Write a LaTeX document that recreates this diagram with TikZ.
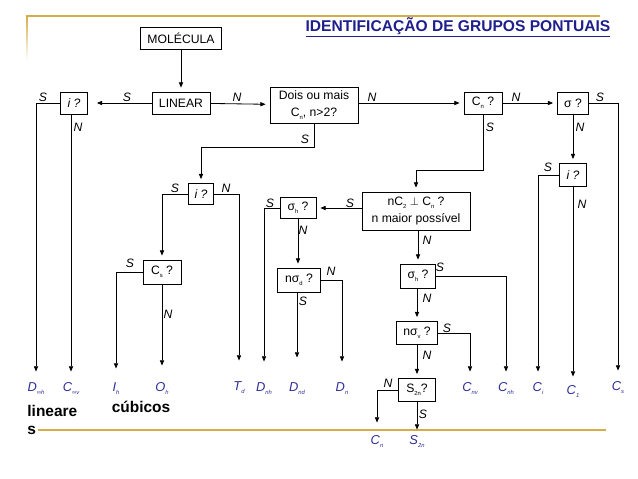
\documentclass[tikz,border=0pt]{standalone}
\usepackage{fontspec}
\setmainfont{Liberation Sans}
\usetikzlibrary{arrows.meta}
\definecolor{gold}{RGB}{212,172,72}
\definecolor{navy}{RGB}{30,30,140}
\definecolor{leafblue}{RGB}{45,45,150}
\newcommand{\sbs}[1]{\raisebox{-0.45ex}{\fontsize{5}{5}\selectfont #1}}

\begin{document}
\begin{tikzpicture}[x=0.03cm, y=-0.03cm, line width=0.7pt,
  box/.style={draw, fill=white, inner sep=0pt, align=center,
              font=\fontsize{10.4}{14}\selectfont},
  sz/.style 2 args={minimum width=#1*0.03cm, minimum height=#2*0.03cm},
  yn/.style={font=\fontsize{10.4}{12}\selectfont\itshape, inner sep=0pt},
  leaf/.style={font=\fontsize{11}{12}\selectfont\itshape, text=leafblue,
               inner sep=1pt, text height=8pt, text depth=2pt},
  big/.style={font=\fontsize{13.2}{16}\selectfont\bfseries, inner sep=0pt},
  arr/.style={-{Triangle[length=4.5pt,width=3.6pt]}, shorten >=0.12cm}
]
\useasboundingbox (0,0) rectangle (638,479);

% moldura
\draw[gold, line width=1.6pt] (27,16) -- (600,16);
\shade[top color=gold, bottom color=white] (26.2,16) rectangle (27.8,60);
\draw[gold, line width=1.2pt] (38,430) -- (606,430);

\node[big, font=\fontsize{13.3}{14}\selectfont\bfseries, text=navy] (title) at (458,27)
  {\underline{IDENTIFICAÇÃO DE GRUPOS PONTUAIS}};

% caixas
\node[box, sz={81}{22}] (mol) at (181,38) {MOLÉCULA};
\node[box, sz={58}{22}] (lin) at (181,103) {LINEAR};
\node[box, sz={27}{22}] (ilin) at (74,103) {\itshape i ?};
\node[box, sz={88}{36}] (dois) at (314,105) {Dois ou mais\\C\sbs{n}, n>2?};
\node[box, sz={38}{22}] (cn) at (483,103) {C\sbs{n} ?};
\node[box, sz={31}{22}] (sig) at (573,103) {σ ?};
\node[box, sz={25}{21}] (icub) at (201,194) {\itshape i ?};
\node[box, sz={38}{24}] (cs) at (162,272) {C\sbs{s} ?};
\node[box, sz={108}{38}] (nc2) at (416,211) {nC\sbs{2} $\perp$ C\sbs{n} ?\\n maior possível};
\node[box, sz={36}{21}] (sh1) at (298,208) {σ\sbs{h} ?};
\node[box, sz={43}{24}] (nsd) at (299,280) {nσ\sbs{d} ?};
\node[box, sz={35}{24}] (sh2) at (418,276) {σ\sbs{h} ?};
\node[box, sz={41}{23}] (nsv) at (417,333) {nσ\sbs{v} ?};
\node[box, sz={37}{23}] (s2n) at (417,390) {S\sbs{2n}?};
\node[box, sz={27}{23}] (iri) at (573,175) {\itshape i ?};

% grupos pontuais
\node[leaf] (dinfh) at (36,388) {D\sbs{∞h}};
\node[leaf] (cinfv) at (71,388) {C\sbs{∞v}};
\node[leaf] (ih) at (116,388) {I\sbs{h}};
\node[leaf] (oh) at (162,388) {O\sbs{h}};
\node[leaf] (td) at (239,387) {T\sbs{d}};
\node[leaf] (dnh) at (264,388) {D\sbs{nh}};
\node[leaf] (dnd) at (297,388) {D\sbs{nd}};
\node[leaf] (dn) at (342,388) {D\sbs{n}};
\node[leaf] (cnv) at (470,388) {C\sbs{nv}};
\node[leaf] (cnh) at (506,388) {C\sbs{nh}};
\node[leaf] (ci) at (538,388) {C\sbs{i}};
\node[leaf] (c1) at (573,391) {C\sbs{1}};
\node[leaf] (csl) at (618,387) {C\sbs{s}};
\node[leaf] (cnb) at (377,441) {C\sbs{n}};
\node[leaf] (s2nl) at (417,441) {S\sbs{2n}};

\node[big, align=left, anchor=west] (linr) at (27,420) {lineare\\s};
\node[big] (cub) at (141,407) {cúbicos};

% ligações
\draw[arr] (mol) -- (lin);
\draw[arr, shorten >=0.27cm] (lin) -- (ilin);
\draw[arr] (lin) -- (dois);
\draw[arr] (dois.east |- cn) -- (cn);
\draw[arr] (cn) -- (sig);

\draw[arr, shorten >=0.27cm] (ilin.west) -| (dinfh);
\draw[arr, shorten >=0.27cm] (ilin.south -| cinfv) -- (cinfv);

\draw[arr] (dois.south) -- ++(0,24) -| (icub);
\draw[arr] (icub.west) -| (cs);
\draw[arr, shorten >=0.57cm] (icub.east) -| (td);
\draw[arr, shorten >=0.36cm] (cs.west) -| (ih);
\draw[arr, shorten >=0.45cm] (cs) -- (oh);

\draw[arr] (cn.south) -- ++(0,56) -| (nc2);
\draw[arr] (nc2.west |- sh1) -- (sh1);
\draw[arr] (nc2.south -| sh2) -- (sh2);
\draw[arr, shorten >=0.57cm] (sh1.west) -| (dnh);
\draw[arr] (sh1.south) -- (sh1.south |- nsd.north);
\draw[arr, shorten >=0.57cm] (nsd.east) -| (dn);
\draw[arr, shorten >=0.69cm] (nsd.south -| dnd) -- (dnd);

\draw[arr, shorten >=0.27cm] (sh2.east) -| (cnh);
\draw[arr] (sh2.south -| nsv) -- (nsv);
\draw[arr, shorten >=0.27cm] (nsv.east) -| (cnv);
\draw[arr] (nsv) -- (s2n);
\draw[arr, shorten >=0.33cm] (s2n.west) -| (cnb);
\draw[arr, shorten >=0.12cm] (s2n) -- (s2nl);

\draw[arr, shorten >=0.27cm] (sig.east) -| (csl);
\draw[arr] (sig) -- (iri);
\draw[arr, shorten >=0.27cm] (iri.west) -| (ci);
\draw[arr, shorten >=0.21cm] (iri) -- (c1);

% S / N
\foreach \p/\t [count=\k] in {(43,97)/S, (127,97)/S, (237,97)/N, (78,127)/N,
    (372,97)/N, (305,139)/S, (516,97)/N, (490,127)/S, (600,97)/S, (580,127)/N,
    (548,167)/S, (582,204)/N, (175,188)/S, (226,188)/N, (130,263)/S, (168,314)/N,
    (270,203)/S, (350,203)/S, (303,230)/N, (331,271)/N, (303,301)/S, (427,240)/N,
    (440,267)/S, (427,298)/N, (447,328)/S, (427,355)/N, (388,383)/N, (423,414)/S}
  \node[yn] (yn\k) at \p {\t};
\end{tikzpicture}
\end{document}
